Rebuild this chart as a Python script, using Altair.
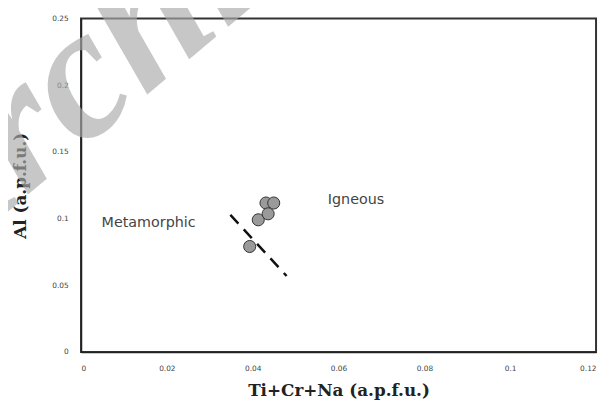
import altair as alt
import pandas as pd

# data points (Ti+Cr+Na vs Al, a.p.f.u.)
x_vals = [0.0431, 0.0449, 0.0413, 0.0436, 0.0393]
y_vals = [0.1117, 0.1117, 0.0991, 0.1036, 0.0791]

# dashed discrimination line
line_x = [0.0348, 0.0479]
line_y = [0.1028, 0.0570]

# field labels
label_text = ["Igneous", "Metamorphic"]
label_x = [0.0575, 0.0048]
label_y = [0.1140, 0.0969]

x_ticks = [0, 0.02, 0.04, 0.06, 0.08, 0.1, 0.12]
y_ticks = [0, 0.05, 0.1, 0.15, 0.2, 0.25]

wm_text = ["Archive"]
wm_x = [0.0101]
wm_y = [0.2337]

pts = pd.DataFrame({"x": x_vals, "y": y_vals})
ln = pd.DataFrame({"x": line_x, "y": line_y})
lab = pd.DataFrame({"t": label_text, "x": label_x, "y": label_y})
wm = pd.DataFrame({"t": wm_text, "x": wm_x, "y": wm_y})

xs = alt.Scale(domain=[0, 0.12], nice=False, zero=False)
ys = alt.Scale(domain=[0, 0.25], nice=False, zero=False)

common = dict(grid=False, tickSize=0, labelPadding=13, labelFontSize=7.5, labelColor="#444",
              labelFont="DejaVu Sans", titleFont="DejaVu Serif", titleFontSize=17,
              titleFontWeight="bold", titleColor="#222", domainColor="#222", domainWidth=1.5,
              labelExpr="datum.value == 0 ? '0' : format(datum.value, '.2~f')")

x_axis = alt.Axis(values=x_ticks, title="Ti+Cr+Na (a.p.f.u.)", titlePadding=11, **common)
y_axis = alt.Axis(values=y_ticks, title="Al (a.p.f.u.)", titlePadding=23, **common)

line = alt.Chart(ln).mark_line(color="#111", strokeWidth=2.5, strokeDash=[12, 8]).encode(
    x=alt.X("x:Q", scale=xs, axis=x_axis),
    y=alt.Y("y:Q", scale=ys, axis=y_axis),
)

points = alt.Chart(pts).mark_point(shape="circle", filled=True, size=150, fill="#9a9a9a",
                                   stroke="#333", strokeWidth=1, opacity=1).encode(
    x=alt.X("x:Q", scale=xs),
    y=alt.Y("y:Q", scale=ys),
)

labels = alt.Chart(lab).mark_text(align="left", baseline="middle", fontSize=14.5,
                                  font="DejaVu Sans", color="#444").encode(
    x=alt.X("x:Q", scale=xs),
    y=alt.Y("y:Q", scale=ys),
    text="t:N",
)

watermark = alt.Chart(wm).mark_text(align="center", baseline="middle", fontSize=190,
                                    font="Liberation Serif", fontStyle="italic",
                                    fontWeight="bold", angle=320, color="#aaaaaa",
                                    opacity=0.65).encode(
    x=alt.X("x:Q", scale=xs),
    y=alt.Y("y:Q", scale=ys),
    text="t:N",
)

chart = alt.layer(line, points, labels, watermark).properties(
    width=522, height=338,
    autosize=alt.AutoSizeParams(type="none"),
    padding={"left": 74, "top": 8, "right": 3, "bottom": 48},
).configure_view(stroke="#333", strokeWidth=2)

chart.save("out.html", embed_options={"renderer": "svg", "actions": False})
